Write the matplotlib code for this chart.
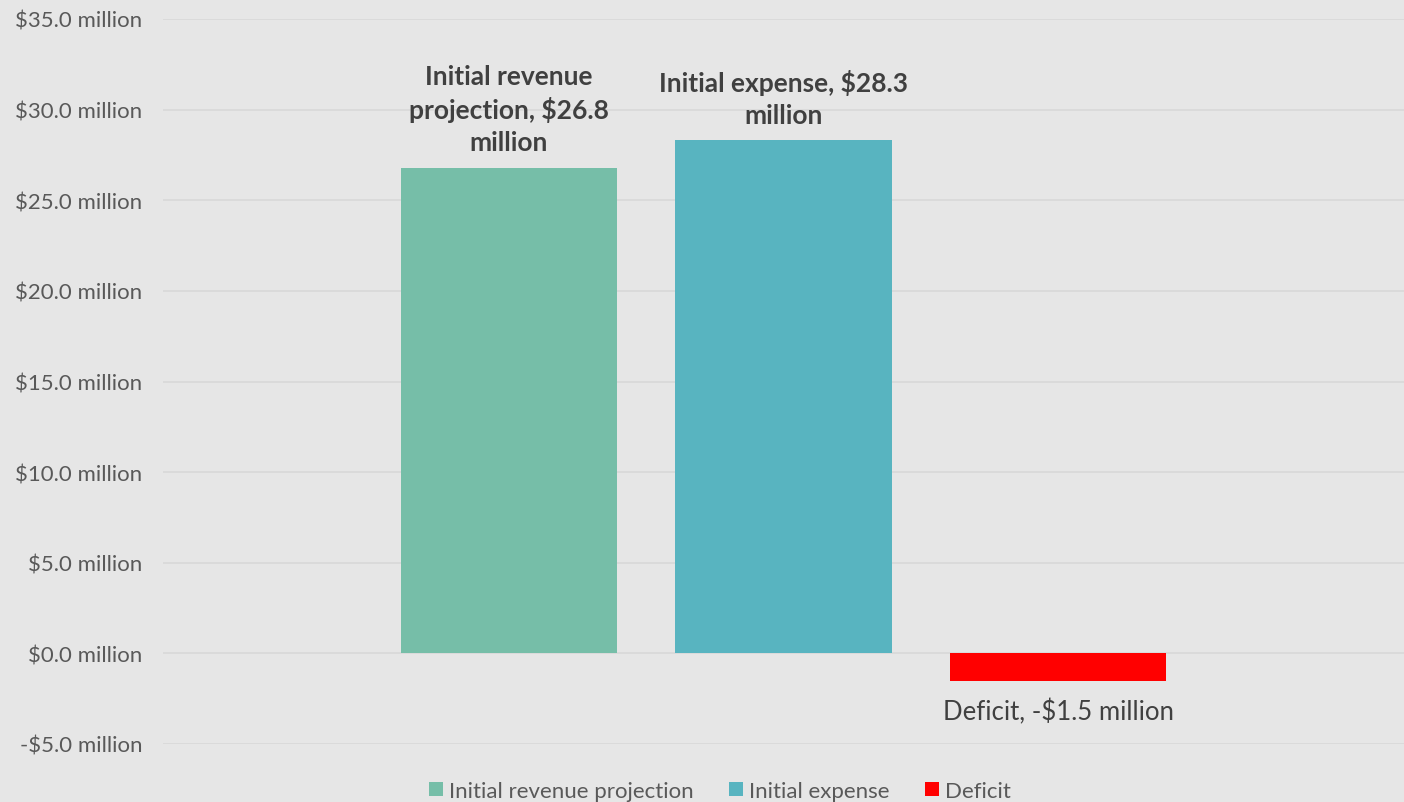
import matplotlib
matplotlib.use("Agg")
import matplotlib.pyplot as plt
from matplotlib.ticker import FuncFormatter, MultipleLocator

plt.rcParams['font.family'] = ['Lato', 'DejaVu Sans']

series = ["Initial revenue projection", "Initial expense", "Deficit"]
values = [26.8, 28.3, -1.5]
labels = ["Initial revenue\nprojection, $26.8\nmillion", "Initial expense, $28.3\nmillion", "Deficit, -$1.5 million"]
colors = ["#76BEA8", "#58B4C0", "#FF0000"]

fig = plt.figure(figsize=(14.04, 8.03), dpi=100)
fig.patch.set_facecolor("#E6E6E6")
ax = fig.add_axes([163/1404, 58/803, 1241/1404, 725/803])
ax.set_facecolor("#E6E6E6")

xs = list(range(len(values)))
for i, (s, v, c) in enumerate(zip(series, values, colors)):
    ax.bar(xs[i], v, width=217/275, color=c, label=s, zorder=3)

for i, (v, lab) in enumerate(zip(values, labels)):
    if v >= 0:
        ax.annotate(lab, (xs[i], v), xytext=(0, 10), textcoords="offset points",
                    ha="center", va="bottom", multialignment="center",
                    fontsize=19, fontweight="bold", color="#404040", linespacing=1.38)
    else:
        ax.annotate(lab, (xs[i], v), xytext=(0, -13), textcoords="offset points",
                    ha="center", va="top", fontsize=18.5, color="#404040")

ax.set_ylim(-5, 35)
ax.set_xlim(-1.26, 3.26)
ax.yaxis.set_major_locator(MultipleLocator(5))
ax.yaxis.set_major_formatter(FuncFormatter(lambda v, p: ("-$%.1f million" % abs(v)) if v < 0 else ("$%.1f million" % v)))
ax.grid(axis="y", color="#D9D9D9", linewidth=1.3, zorder=0)
ax.set_xticks([])
for sp in ax.spines.values():
    sp.set_visible(False)
ax.tick_params(axis="y", length=0, pad=15, labelsize=16, labelcolor="#595959")

leg = fig.legend(loc="lower center", bbox_to_anchor=(0.513, -0.024), ncol=3, frameon=False,
                 fontsize=16, handlelength=0.6, handleheight=0.6, handletextpad=0.3,
                 columnspacing=1.6, labelcolor="#595959")
fig.savefig("out.png", dpi=100, facecolor=fig.get_facecolor())
